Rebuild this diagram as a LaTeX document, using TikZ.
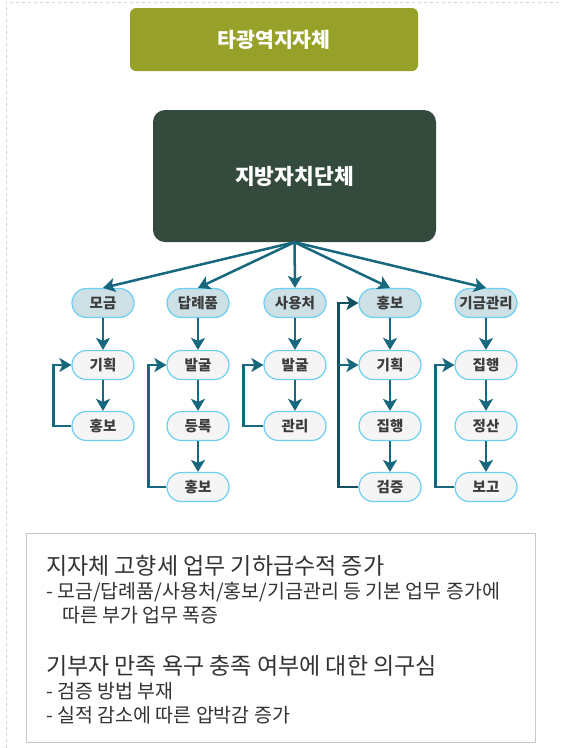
\documentclass[tikz,border=0pt]{standalone}
\usepackage{fontspec}
\setmainfont{Noto Sans CJK KR}
\usetikzlibrary{arrows.meta}
\definecolor{olivebox}{HTML}{97A12A}
\definecolor{darkbox}{HTML}{334A3D}
\definecolor{linkblue}{HTML}{17677F}
\definecolor{loopdark}{HTML}{12505F}
\definecolor{pillline}{HTML}{6CCFF0}
\definecolor{pillblue}{HTML}{CCE0E6}
\definecolor{pillgray}{HTML}{F5F5F5}
\definecolor{pilltext}{HTML}{3C3C3C}
\definecolor{notetext}{HTML}{333333}
\begin{document}
\begin{tikzpicture}[x=1pt,y=-1pt,
    flow/.style={draw=linkblue,line width=2.5pt,-{Stealth[length=12pt,width=14pt,inset=3pt]}},
    backflow/.style={flow,draw=loopdark},
    pill/.style={draw=pillline,line width=1.2pt,fill=pillgray,rounded corners=14.5pt,
      minimum width=62pt,minimum height=29pt,inner sep=0pt,text=pilltext,
      font=\fontsize{14.5}{16}\selectfont\bfseries},
    task/.style={pill,fill=pillblue},
    note/.style={anchor=west,inner sep=0pt,text=notetext,font=\fontsize{19.5}{21}\selectfont},
    issue/.style={note,font=\fontsize{23}{25}\selectfont}]
  \useasboundingbox (0,0) rectangle (561,748);
  \draw[gray!35,dashed] (6,748) -- (6,2) -- (561,2);
  \draw
    (274,39.5) node[fill=olivebox,rounded corners=6pt,minimum width=288pt,minimum height=63pt,
      text=white,font=\fontsize{20.5}{22}\selectfont\bfseries] (gwangyeok){타광역지자체}
    (294.5,176) node[fill=darkbox,rounded corners=12pt,minimum width=283pt,minimum height=132pt,
      text=white,font=\fontsize{21.5}{23}\selectfont\bfseries] (jibang){지방자치단체};
  \draw
    (103,303) node[task] (mg1){모금}
    (103,365) node[pill] (mg2){기획}
    (103,426) node[pill] (mg3){홍보}
    (198,303) node[task] (dr1){답례품}
    (198,365) node[pill] (dr2){발굴}
    (198,426) node[pill] (dr3){등록}
    (198,487) node[pill] (dr4){홍보}
    (295,303) node[task] (sy1){사용처}
    (295,365) node[pill] (sy2){발굴}
    (295,426) node[pill] (sy3){관리}
    (390,303) node[task] (hb1){홍보}
    (390,365) node[pill] (hb2){기획}
    (390,426) node[pill] (hb3){집행}
    (390,487) node[pill] (hb4){검증}
    (486,303) node[task] (gg1){기금관리}
    (486,365) node[pill] (gg2){집행}
    (486,426) node[pill] (gg3){정산}
    (486,487) node[pill] (gg4){보고};
  \begin{scope}[flow]
    \draw (jibang.south) to (mg1.north);
    \draw (jibang.south) to (dr1.north);
    \draw (jibang.south) to (sy1.north);
    \draw (jibang.south) to (hb1.north);
    \draw (jibang.south) to (gg1.north);
    \draw (mg1) to (mg2);
    \draw (mg2) to (mg3);
    \draw (dr1) to (dr2);
    \draw (dr2) to (dr3);
    \draw (dr3) to (dr4);
    \draw (sy1) to (sy2);
    \draw (sy2) to (sy3);
    \draw (hb1) to (hb2);
    \draw (hb2) to (hb3);
    \draw (hb3) to (hb4);
    \draw (gg1) to (gg2);
    \draw (gg2) to (gg3);
    \draw (gg3) to (gg4);
    \draw (mg3.west) -- ++(-18,0) |- (mg2.west);
    \draw (dr4.west) -- ++(-18,0) |- (dr2.west);
    \draw (sy3.west) -- ++(-20,0) |- (sy2.west);
    \draw[backflow] (hb4.west) -- ++(-20,0) |- (hb1.west);
    \draw ([xshift=-20pt]hb2.west) -- (hb2.west);
    \draw (gg4.west) -- ++(-19,0) |- (gg2.west);
  \end{scope}
  \draw[draw=gray!45,line width=1pt] (26,533) rectangle (535,742);
  \draw
    (46,566) node[issue] (issue1){지자체 고향세 업무 기하급수적 증가}
    (46,592) node[note] (detail1){- 모금/답례품/사용처/홍보/기금관리 등 기본 업무 증가에}
    (62,615) node[note] (detail2){따른 부가 업무 폭증}
    (46,666) node[issue] (issue2){기부자 만족 욕구 충족 여부에 대한 의구심}
    (46,691) node[note] (detail3){- 검증 방법 부재}
    (46,715) node[note] (detail4){- 실적 감소에 따른 압박감 증가};
\end{tikzpicture}
\end{document}
